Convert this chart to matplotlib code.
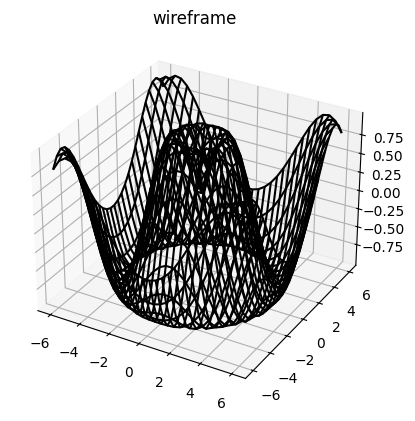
import numpy as np
import matplotlib
matplotlib.use('Agg')
import matplotlib.pyplot as plt

# grid positions on the positive side, the surface is mirrored around 0
grid_pos = [0.207, 0.621, 1.034, 1.448, 1.862, 2.276, 2.690, 3.103,
            3.517, 3.931, 4.345, 4.759, 5.172, 5.586, 6.0]

# heights for one quarter of the surface
z_quarter = [
    [.288, .608, .870, .994, .954, .756, .429, .031, -.373, -.714, -.935, -.999, -.894, -.639, -.276],
    [.608, .769, .934, .9999, .924, .705, .372, -.023, -.417, -.743, -.948, -.996, -.879, -.615, -.249],
    [.870, .934, .994, .978, .848, .598, .256, -.129, -.501, -.798, -.970, -.988, -.846, -.566, -.193],
    [.994, .9999, .978, .888, .705, .429, .087, -.281, -.615, -.866, -.991, -.966, -.790, -.490, -.111],
    [.954, .924, .848, .705, .486, .199, -.129, -.459, -.743, -.935, -.9999, -.922, -.707, -.385, -.001],
    [.756, .705, .598, .429, .199, -.077, -.373, -.650, -.866, -.985, -.982, -.846, -.591, -.249, .134],
    [.429, .372, .256, .087, -.129, -.373, -.615, -.822, -.960, -.999, -.922, -.729, -.438, -.083, .288],
    [.031, -.023, -.129, -.281, -.459, -.650, -.822, -.948, -.9998, -.957, -.810, -.566, -.249, .107, .455],
    [-.373, -.417, -.501, -.615, -.743, -.866, -.960, -.9998, -.966, -.846, -.639, -.357, -.028, .313, .622],
    [-.714, -.743, -.798, -.866, -.935, -.985, -.999, -.957, -.846, -.662, -.411, -.111, .212, .521, .777],
    [-.935, -.948, -.970, -.991, -.9999, -.982, -.922, -.810, -.639, -.411, -.138, .160, .455, .713, .902],
    [-.999, -.996, -.988, -.966, -.922, -.846, -.729, -.566, -.357, -.111, .160, .432, .678, .870, .981],
    [-.894, -.879, -.846, -.790, -.707, -.591, -.438, -.249, -.028, .212, .455, .678, .858, .971, .998],
    [-.639, -.615, -.566, -.490, -.385, -.249, -.083, .107, .313, .521, .713, .870, .971, .999, .941],
    [-.276, -.249, -.193, -.111, -.001, .134, .288, .455, .622, .777, .902, .981, .998, .941, .807],
]

z_ticks = [-0.75, -0.50, -0.25, 0.00, 0.25, 0.50, 0.75]

grid = np.array(grid_pos)
axis = np.concatenate([-grid[::-1], grid])
X, Y = np.meshgrid(axis, axis)

q = np.array(z_quarter)
Z = np.block([[q[::-1, ::-1], q[::-1, :]],
              [q[:, ::-1], q]])

fig = plt.figure()
ax = plt.axes(projection='3d')
ax.plot_wireframe(X, Y, Z, color='black')
ax.set_zticks(z_ticks)
ax.set_title('wireframe')
plt.savefig('out.png', bbox_inches='tight')
